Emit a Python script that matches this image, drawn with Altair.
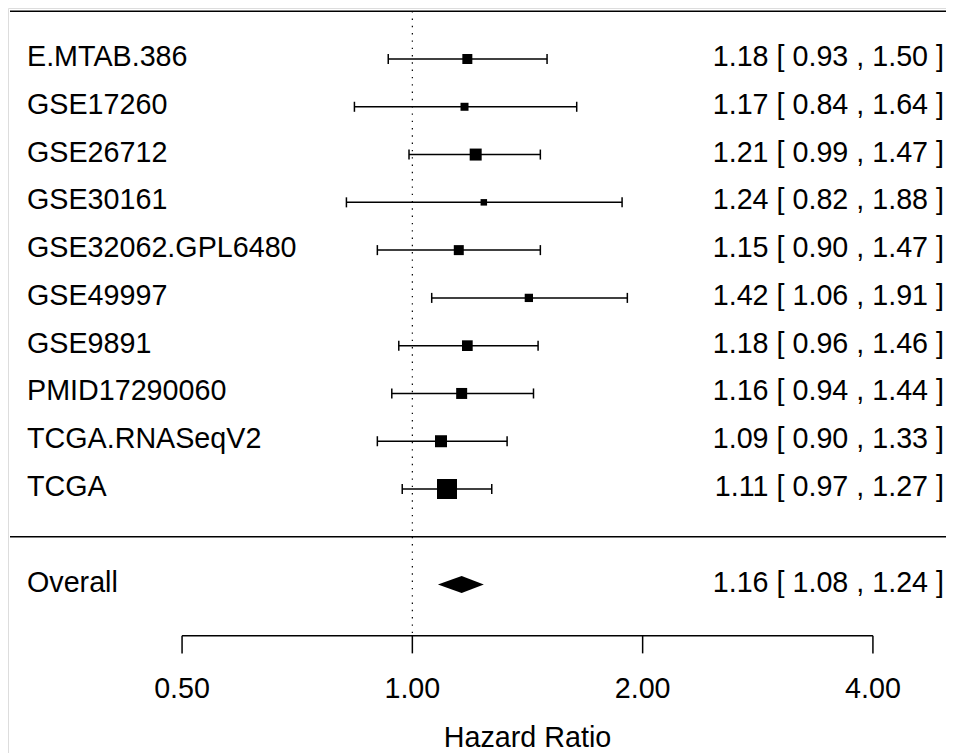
import altair as alt
import pandas as pd

# ---- data ----
studies = ["E.MTAB.386", "GSE17260", "GSE26712", "GSE30161", "GSE32062.GPL6480",
           "GSE49997", "GSE9891", "PMID17290060", "TCGA.RNASeqV2", "TCGA"]
hr = [1.18, 1.17, 1.21, 1.24, 1.15, 1.42, 1.18, 1.16, 1.09, 1.11]
ci_lo = [0.93, 0.84, 0.99, 0.82, 0.90, 1.06, 0.96, 0.94, 0.90, 0.97]
ci_hi = [1.50, 1.64, 1.47, 1.88, 1.47, 1.91, 1.46, 1.44, 1.33, 1.27]
weight = [10, 8, 12, 6.5, 10, 8.3, 10.7, 11, 12, 20]   # relative study weight (marker side)

overall_label = "Overall"
overall_hr = 1.16
overall_lo = 1.08
overall_hi = 1.24

tick_values = [0.5, 1.0, 2.0, 4.0]
tick_labels = ["0.50", "1.00", "2.00", "4.00"]
x_title = "Hazard Ratio"

# ---- layout constants ----
W, H = 938, 745
FONT = "Liberation Sans"
FS = 28.7
X_DOMAIN = [0.2961, 4.984]
Y_DOMAIN = [-4.525, 11.0674]
CAP = 0.105
AXIS_R = -2.07
TICK_END = -2.44
LABEL_R = -3.374
TITLE_R = -4.399
DIAMOND_H = 0.178

k = len(studies)
rows = list(range(k, 0, -1))

df = pd.DataFrame({
    "study": studies, "hr": hr, "lo": ci_lo, "hi": ci_hi, "w": weight, "row": rows,
})
df["label"] = [f"{h:.2f} [ {l:.2f} , {u:.2f} ]" for h, l, u in zip(hr, ci_lo, ci_hi)]

xs = alt.Scale(type="log", domain=X_DOMAIN, range=[0, W], nice=False, zero=False)
ys = alt.Scale(domain=Y_DOMAIN, nice=False, zero=False)

def X(f):
    return alt.X(f, type="quantitative", scale=xs, axis=None)

def Y(f):
    return alt.Y(f, type="quantitative", scale=ys, axis=None)

base = alt.Chart(df)

# horizontal separator lines
hlines = alt.Chart(pd.DataFrame({"r": [k + 1, 0]})).mark_rule(
    color="black", strokeWidth=1.6
).encode(x=alt.value(2), x2=alt.value(W), y=Y("r"))

# reference dotted line at HR = 1
ref = alt.Chart(pd.DataFrame({"x": [1.0], "y1": [k + 1], "y2": [AXIS_R]})).mark_rule(
    color="black", strokeWidth=1.2, strokeDash=[1.4, 5.9]
).encode(x=X("x"), y=Y("y1"), y2="y2")

# CI lines
ci = base.mark_rule(color="black", strokeWidth=1.5).encode(
    x=X("lo"), x2="hi", y=Y("row")
)

# caps
caps_df = pd.concat([
    pd.DataFrame({"x": df["lo"], "row": df["row"]}),
    pd.DataFrame({"x": df["hi"], "row": df["row"]}),
])
caps = alt.Chart(caps_df).transform_calculate(
    ya=f"datum.row + {CAP}", yb=f"datum.row - {CAP}"
).mark_rule(color="black", strokeWidth=1.5).encode(
    x=X("x"), y=Y("ya"), y2="yb"
)

# squares
squares = base.mark_point(shape="square", filled=True, color="black", opacity=1,
                          strokeWidth=0).encode(
    x=X("hr"), y=Y("row"),
    size=alt.Size("w:Q", scale=alt.Scale(type="pow", exponent=2, domain=[0, 20],
                                         range=[0, 400]), legend=None),
)

# overall diamond
dia_df = pd.DataFrame({
    "x": [overall_lo, overall_hr, overall_hi],
    "y": [-1, -1 + DIAMOND_H, -1],
    "y2": [-1, -1 - DIAMOND_H, -1],
})
diamond = alt.Chart(dia_df).mark_area(color="black", opacity=1).encode(
    x=X("x"), y=Y("y"), y2="y2"
)

# text columns
left_txt = base.mark_text(align="left", baseline="alphabetic", dy=7, font=FONT,
                          fontSize=FS, color="black").encode(
    x=alt.value(19), y=Y("row"), text="study:N")
right_txt = base.mark_text(align="right", baseline="alphabetic", dy=7, font=FONT,
                           fontSize=FS, color="black").encode(
    x=alt.value(936), y=Y("row"), text="label:N")

ov_df = pd.DataFrame({
    "row": [-1], "study": [overall_label],
    "label": [f"{overall_hr:.2f} [ {overall_lo:.2f} , {overall_hi:.2f} ]"],
})
ov_left = alt.Chart(ov_df).mark_text(align="left", baseline="alphabetic", dy=7, font=FONT,
                                     fontSize=FS, color="black").encode(
    x=alt.value(19), y=Y("row"), text="study:N")
ov_right = alt.Chart(ov_df).mark_text(align="right", baseline="alphabetic", dy=7, font=FONT,
                                      fontSize=FS, color="black").encode(
    x=alt.value(936), y=Y("row"), text="label:N")

# manual x axis
ax_df = pd.DataFrame({"x1": [tick_values[0]], "x2": [tick_values[-1]], "r": [AXIS_R]})
ax_line = alt.Chart(ax_df).mark_rule(color="black", strokeWidth=1.5).encode(
    x=X("x1"), x2="x2", y=Y("r"))
tk_df = pd.DataFrame({"x": tick_values, "lab": tick_labels, "ya": AXIS_R,
                      "yb": TICK_END, "yl": LABEL_R})
ax_ticks = alt.Chart(tk_df).mark_rule(color="black", strokeWidth=1.5).encode(
    x=X("x"), y=Y("ya"), y2="yb")
ax_labels = alt.Chart(tk_df).mark_text(align="center", baseline="alphabetic", font=FONT,
                                       fontSize=FS, color="black").encode(
    x=X("x"), y=Y("yl"), text="lab:N")
title_df = pd.DataFrame({"x": [(tick_values[0] * tick_values[-1]) ** 0.5], "y": [TITLE_R],
                         "t": [x_title]})
ax_title = alt.Chart(title_df).mark_text(align="center", baseline="alphabetic", font=FONT,
                                         fontSize=FS, color="black").encode(
    x=X("x"), y=Y("y"), text="t:N")

chart = alt.layer(
    hlines, ref, ci, caps, squares, diamond, left_txt, right_txt, ov_left, ov_right,
    ax_line, ax_ticks, ax_labels, ax_title
).properties(
    width=W, height=H, padding=0, autosize=alt.AutoSizeParams(type="none")
).configure_view(stroke=None).configure(background="white")

chart.save("out.html", embed_options={"renderer": "svg", "actions": False})
